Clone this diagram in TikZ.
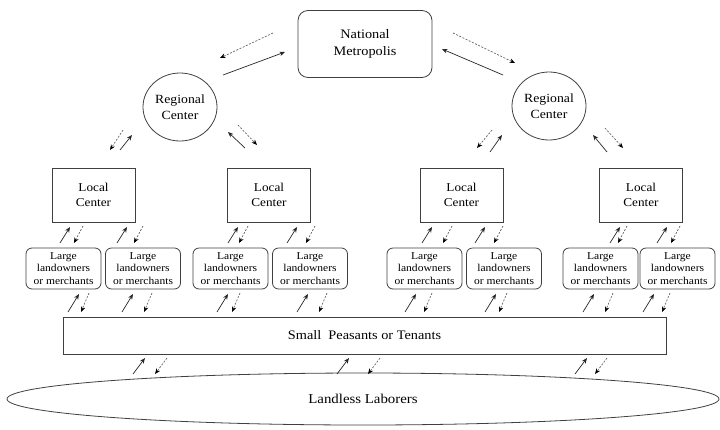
\documentclass[tikz,border=0pt]{standalone}
\usepackage{fontspec}
\setmainfont{Liberation Serif}[FakeStretch=1.1]
\usetikzlibrary{arrows.meta,shapes.geometric}

\tikzset{
    box/.style={draw=black!75, line width=0.8pt, align=center, inner sep=0pt},
    center/.style={box, minimum width=83pt, minimum height=54pt, font=\fontsize{12}{15}\selectfont},
    owner/.style={box, rounded corners=6pt, minimum width=75pt, minimum height=41pt, font=\fontsize{10.5}{12.5}\selectfont},
    region/.style={box, ellipse, minimum width=74pt, minimum height=68pt, font=\fontsize{12.5}{16}\selectfont},
    up/.style={-{Stealth[length=5.5pt,width=4.5pt]}, line width=0.7pt, black!85},
    down/.style={-{Stealth[length=5.5pt,width=4.5pt,color=black]}, line width=0.7pt, dash pattern=on 2pt off 1.5pt, black!60}
}

\begin{document}
\begin{tikzpicture}[x=1pt, y=-1pt]
    \useasboundingbox (0,0) rectangle (720,429);

    % Top of the hierarchy
    \node[box, rounded corners=10pt, minimum width=134pt, minimum height=67pt,
          font=\fontsize{13}{17}\selectfont] (metro) at (365,44) {National\\Metropolis};
    \node[region] (reg1) at (180,107) {Regional\\Center};
    \node[region] (reg2) at (549,106) {Regional\\Center};

    % Local centers
    \node[center] (loc1) at (93.5,195) {Local\\Center};
    \node[center] (loc2) at (269,195) {Local\\Center};
    \node[center] (loc3) at (461.5,195) {Local\\Center};
    \node[center] (loc4) at (641,195) {Local\\Center};

    % Large landowners or merchants
    \foreach \x [count=\i] in {63.5,143,230.5,310,424.5,504,600.5,677.5}
        \node[owner] (own\i) at (\x,268.5) {Large\\landowners\\or merchants};

    % Bottom layers
    \node[box, minimum width=603pt, minimum height=37pt,
          font=\fontsize{13}{16}\selectfont] (peas) at (364.5,335.5) {Small\ \ Peasants or Tenants};
    \node[box, ellipse, minimum width=712pt, minimum height=52pt,
          font=\fontsize{13.5}{16}\selectfont] (land) at (363,399) {Landless Laborers};

    % Flows between metropolis and regional centers
    \draw[down] (273,33) -- (220,58);
    \draw[up] (223,75) -- (285,52);
    \draw[down] (453,33) -- (515,63);
    \draw[up] (503,75) -- (442,49);

    % Flows between regional and local centers
    \draw[down] (123,130) -- (110,150);
    \draw[up] (120,150) -- (132,135);
    \draw[up] (245,148) -- (228,132);
    \draw[down] (238,125) -- (257,145);
    \draw[down] (492,130) -- (477,148);
    \draw[up] (490,152) -- (502,135);
    \draw[up] (607,152) -- (593,135);
    \draw[down] (605,128) -- (623,148);

    % Local centers <-> landowners
    \foreach \s/\d in {60/83,117/143,228/248,287/315,422/452,475/503,610/627,657/680} {
        \draw[up] (\s,243) -- ++(10,-16);
        \draw[down] (\d,226) -- ++(-9,17);
    }

    % Landowners <-> small peasants
    \foreach \s/\d in {68/89,122/152,217/240,297/327,405/432,485/507,583/613,643/670} {
        \draw[up] (\s,312) -- ++(11,-18);
        \draw[down] (\d,293) -- ++(-8,19);
    }

    % Small peasants <-> landless laborers
    \foreach \s/\d in {133/167,337/380,575/607} {
        \draw[up] (\s,374) -- ++(12,-16);
        \draw[down] (\d,358) -- ++(-12,16);
    }
\end{tikzpicture}
\end{document}
